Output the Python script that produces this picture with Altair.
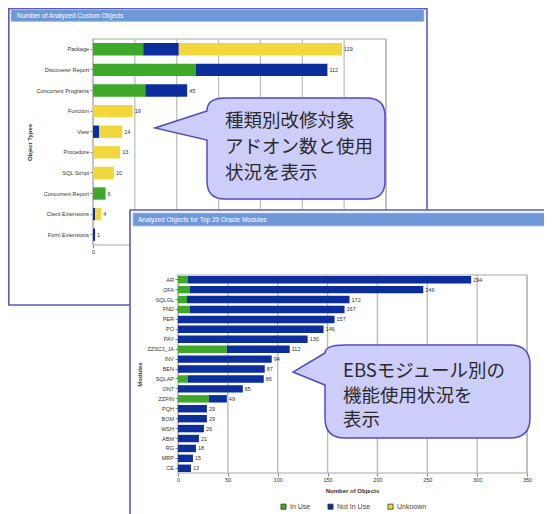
import altair as alt
import pandas as pd

W, H = 536, 506
SANS = "Liberation Sans"
JP = "Noto Sans CJK JP"

# ---------------- data ----------------
title_types = "Number of Analyzed Custom Objects"
title_modules = "Analyzed Objects for Top 20 Oracle Modules"

object_types = ["Package", "Discoverer Report", "Concurrent Programs", "Function", "View",
                "Procedure", "SQL Script", "Concurrent Report", "Client Extensions", "Form Extensions"]
types_in_use = [24, 49, 25, 0, 0, 0, 0, 6, 0, 0]
types_not_in_use = [17, 63, 20, 0, 3, 0, 0, 0, 1, 1]
types_unknown = [78, 0, 0, 19, 11, 13, 10, 0, 3, 0]
types_ticks = [0, 20, 40, 60, 80, 100, 120, 140]

modules = ["AR", "OFA", "SQLGL", "FND", "PER", "PO", "PAY", "ZZSCJ_JA", "INV", "BEN",
           "SQLAP", "ONT", "ZZFIN", "PQH", "BOM", "WSH", "ABM", "RG", "MRP", "CE"]
modules_in_use = [10, 12, 9, 12, 0, 0, 0, 49, 0, 0, 10, 0, 31, 0, 0, 0, 0, 0, 0, 0]
modules_not_in_use = [284, 234, 163, 155, 157, 146, 130, 63, 94, 87, 76, 65, 18, 29, 29, 26, 21, 18, 15, 13]
modules_ticks = [0, 50, 100, 150, 200, 250, 300, 350]

statuses = ["In Use", "Not In Use", "Unknown"]
status_colors = ["#3ea82a", "#0c2d9c", "#f2d73c"]

callout_types = ["種類別改修対象", "アドオン数と使用", "状況を表示"]
callout_modules = ["EBSモジュール別の", "機能使用状況を", "表示"]


def long_rows(cats, series):
    rows = []
    for status, vals in series:
        for c, v in zip(cats, vals):
            if v > 0:
                rows.append({"cat": c, "status": status, "ord": statuses.index(status), "count": v})
    return pd.DataFrame(rows)


df1 = long_rows(object_types, [("In Use", types_in_use), ("Not In Use", types_not_in_use),
                               ("Unknown", types_unknown)])
tot1 = pd.DataFrame({"cat": object_types,
                     "total": [a + b + c for a, b, c in zip(types_in_use, types_not_in_use, types_unknown)]})
df2 = long_rows(modules, [("In Use", modules_in_use), ("Not In Use", modules_not_in_use)])
tot2 = pd.DataFrame({"cat": modules, "total": [a + b for a, b in zip(modules_in_use, modules_not_in_use)]})
grid1 = pd.DataFrame({"tick": types_ticks})
grid2 = pd.DataFrame({"tick": modules_ticks})
one = pd.DataFrame({"k": [0]})

# ---------------- helpers ----------------
def axis(**kw):
    base = dict(domain=False, grid=False, tickSize=3, tickColor="#666666", tickWidth=0.8,
                labelFont=SANS, labelFontSize=5.5, labelColor="#333333", labelPadding=1.5,
                labelFlush=False, titleFont=SANS, titleFontSize=6, titleFontWeight="bold",
                titleColor="#333333")
    base.update(kw)
    return alt.Axis(**base)


legend = alt.Legend(orient="none", legendX=272, legendY=495, direction="horizontal", title=None,
                    symbolType="square", symbolSize=26, symbolStrokeColor="#333333",
                    symbolStrokeWidth=0.8, labelFont=SANS, labelFontSize=7, labelColor="#444444",
                    labelOffset=3, columnPadding=15, padding=0)
color = alt.Color("status:N", scale=alt.Scale(domain=statuses, range=status_colors), legend=legend)


def bubble_path(w, h, r, tip_x, tip_y, base_top, base_bottom):
    top_join = f"L0,{base_top} " + (f"V{r} " if base_top > r else "")
    return (f"M{r},0 H{w - r} Q{w},0 {w},{r} V{h - r} Q{w},{h} {w - r},{h} "
            f"H{r} Q0,{h} 0,{h - r} V{base_bottom} L{tip_x},{tip_y} {top_join}Q0,0 {r},0 Z")


def rect(x, x2, y, y2, **mk):
    return alt.Chart(one).mark_rect(**mk).encode(
        x=alt.value(x), x2=alt.value(x2), y=alt.value(y), y2=alt.value(y2))


def label(x, y, txt, **mk):
    return alt.Chart(one).mark_text(**mk).encode(x=alt.value(x), y=alt.value(y), text=alt.value(txt))


BORDER = "#5b5bb9"
BAR_TITLE = "#6f98d8"

# ---------------- panel 1 ----------------
xs1 = alt.Scale(domain=[0, 140], range=[85, 378], nice=False, zero=False)
ys1 = alt.Scale(domain=object_types, range=[31, 237], paddingInner=0.4, paddingOuter=0.2)
xa1 = axis(orient="bottom", offset=237 - H, values=types_ticks, title=None, zindex=0)
ya1 = axis(orient="left", offset=-85, title="Object Types", titleX=-60.5, titleY=134, zindex=0)

g1 = alt.Chart(grid1).mark_rule(color="#bcbcbc", strokeWidth=1.2).encode(
    x=alt.X("tick:Q", scale=xs1, axis=xa1), y=alt.value(31), y2=alt.value(237))
bars1 = alt.Chart(df1).mark_bar().encode(
    x=alt.X("count:Q", stack="zero", scale=xs1, axis=xa1),
    y=alt.Y("cat:N", scale=ys1, axis=ya1, sort=object_types),
    color=color, order=alt.Order("ord:Q"))
lab1 = alt.Chart(tot1).mark_text(align="left", baseline="middle", dx=2, fontSize=5.5, font=SANS,
                                 color="#333333").encode(
    x=alt.X("total:Q", scale=xs1, axis=xa1),
    y=alt.Y("cat:N", scale=ys1, axis=ya1, sort=object_types),
    text="total:Q")
panel1 = alt.layer(g1, bars1, lab1)

# ---------------- panel 2 ----------------
xs2 = alt.Scale(domain=[0, 350], range=[170, 519], nice=False, zero=False)
ys2 = alt.Scale(domain=modules, range=[267, 465], paddingInner=0.25, paddingOuter=0.1)
xa2 = axis(orient="bottom", offset=465 - H, values=modules_ticks, title="Number of Objects",
           titleX=344, titleY=14, zindex=1)
ya2 = axis(orient="left", offset=-170, title="Modules", titleX=-35.5, titleY=366, zindex=1)

g2 = alt.Chart(grid2).mark_rule(color="#bcbcbc", strokeWidth=1.4).encode(
    x=alt.X("tick:Q", scale=xs2, axis=xa2), y=alt.value(267), y2=alt.value(465))
bars2 = alt.Chart(df2).mark_bar().encode(
    x=alt.X("count:Q", stack="zero", scale=xs2, axis=xa2),
    y=alt.Y("cat:N", scale=ys2, axis=ya2, sort=modules),
    color=color, order=alt.Order("ord:Q"))
lab2 = alt.Chart(tot2).mark_text(align="left", baseline="middle", dx=2, fontSize=5.5, font=SANS,
                                 color="#333333").encode(
    x=alt.X("total:Q", scale=xs2, axis=xa2),
    y=alt.Y("cat:N", scale=ys2, axis=ya2, sort=modules),
    text="total:Q")
panel2 = alt.layer(g2, bars2, lab2)

# ---------------- frames and callouts ----------------
frame1 = rect(0.8, 419, 0.8, 297, fillOpacity=0, stroke=BORDER, strokeWidth=1.6)
tbar1 = rect(3, 416, 1.5, 13.5, fill=BAR_TITLE, stroke="#a9c1ea", strokeWidth=0.8)
ttl1 = label(9, 7.5, title_types, align="left", baseline="middle", color="white", fontSize=6.5, font=SANS)
box1 = rect(85, 378, 31, 237, fillOpacity=0, stroke="#a8a8a8", strokeWidth=1.2)

bubble_fill, bubble_stroke = "#cdcdfa", "#4d4dc4"
call1 = alt.Chart(one).mark_point(
    shape=bubble_path(178, 101, 18, -52, 30, 13, 42), size=4, fill=bubble_fill, fillOpacity=1,
    stroke=bubble_stroke, strokeWidth=1.5, opacity=1).encode(x=alt.value(199), y=alt.value(90))
call1_txt = alt.Chart(one).mark_text(
    text=callout_types, align="left", baseline="alphabetic", fontSize=18.5, lineHeight=26,
    font=JP, color="#2b2b2b").encode(x=alt.value(217), y=alt.value(119))

frame2 = rect(122, W + 20, 202, H + 20, fill="white", stroke=BORDER, strokeWidth=1.6)
tbar2 = rect(125, W + 20, 205, 218, fill=BAR_TITLE, stroke="#a9c1ea", strokeWidth=0.8)
ttl2 = label(130, 211.5, title_modules, align="left", baseline="middle", color="white", fontSize=6.5, font=SANS)
box2 = rect(170, 519, 267, 465, fillOpacity=0, stroke="#a8a8a8", strokeWidth=1.2)

call2 = alt.Chart(one).mark_point(
    shape=bubble_path(205, 93, 20, -32, 27, 8, 40), size=4, fill=bubble_fill, fillOpacity=1,
    stroke=bubble_stroke, strokeWidth=1.5, opacity=1).encode(x=alt.value(317), y=alt.value(337))
call2_txt = alt.Chart(one).mark_text(
    text=callout_modules, align="left", baseline="alphabetic", fontSize=18.5, lineHeight=24.5,
    font=JP, color="#2b2b2b").encode(x=alt.value(335), y=alt.value(369))

chart = alt.layer(
    frame1, tbar1, ttl1, box1, panel1, call1, call1_txt,
    frame2, tbar2, ttl2, box2, panel2, call2, call2_txt
).resolve_scale(x="independent", y="independent").properties(
    width=W, height=H, autosize=alt.AutoSizeParams(type="none"), padding=0
).configure_view(strokeWidth=0)

chart.save("out.html", embed_options={"renderer": "svg", "actions": False})
